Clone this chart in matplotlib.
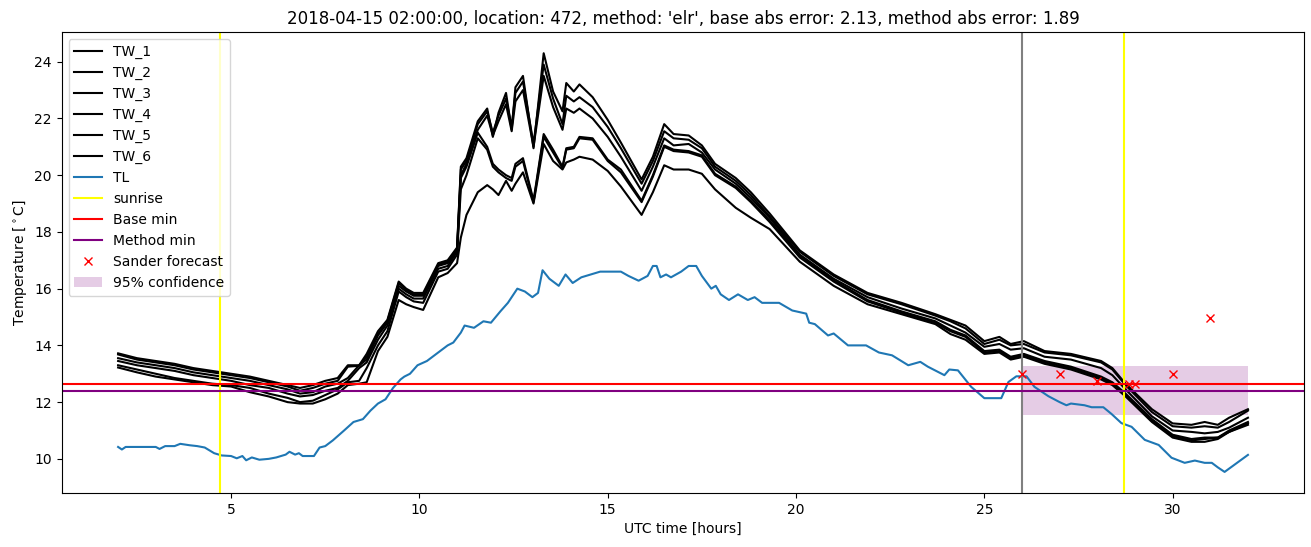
import matplotlib
matplotlib.use("Agg")
import matplotlib.pyplot as plt
import numpy as np

# hours after 2018-04-15 00:00 UTC
tw_hours = [2.0, 2.5, 3.0, 3.5, 4.0, 4.5, 5.0, 5.5, 6.0, 6.5, 6.83, 7.17, 7.5, 7.83,
            8.1, 8.4, 8.6, 8.9, 9.15, 9.45, 9.65, 9.85, 10.1, 10.5, 10.75, 11.0, 11.1,
            11.25, 11.55, 11.8, 11.95, 12.1, 12.3, 12.45, 12.55, 12.75, 13.03, 13.3,
            13.55, 13.8, 13.9, 14.1, 14.25, 14.6, 15.0, 15.35, 15.9, 16.2, 16.5, 16.75,
            17.15, 17.5, 17.85, 18.4, 18.8, 19.3, 20.1, 21.0, 21.9, 22.8, 23.7, 24.1,
            24.5, 25.0, 25.4, 25.7, 26.05, 26.6, 27.3, 28.1, 28.4, 28.75, 29.45, 30.0,
            30.5, 30.85, 31.2, 31.5, 32.0]

tw_1 = [13.72, 13.55, 13.45, 13.35, 13.2, 13.1, 13.0, 12.9, 12.75, 12.6, 12.5, 12.6, 12.75, 12.85,
        13.3, 13.3, 13.7, 14.5, 14.9, 16.25, 16.0, 15.85, 15.85, 16.9, 17.0, 17.45, 20.3,
        20.6, 21.9, 22.35, 21.35, 22.2, 22.9, 21.6, 23.1, 23.5, 20.95, 24.3,
        22.95, 22.25, 23.25, 22.95, 23.2, 22.75, 21.95, 21.15, 19.85, 20.65, 21.8, 21.45,
        21.4, 21.05, 20.4, 19.9, 19.4, 18.65, 17.35, 16.5, 15.85, 15.5, 15.1, 14.9,
        14.7, 14.15, 14.3, 14.05, 14.15, 13.8, 13.7, 13.45, 13.2, 12.65, 11.75, 11.25,
        11.2, 11.3, 11.2, 11.45, 11.75]
tw_2 = [13.68, 13.5, 13.4, 13.3, 13.15, 13.05, 12.95, 12.85, 12.7, 12.55, 12.4, 12.5, 12.65, 12.75,
        13.25, 13.28, 13.6, 14.4, 14.85, 16.2, 15.95, 15.8, 15.8, 16.85, 16.95, 17.4, 20.2,
        20.5, 21.8, 22.25, 21.5, 22.1, 22.7, 21.7, 22.9, 23.3, 21.1, 23.9,
        22.7, 21.8, 22.8, 22.6, 22.75, 22.4, 21.7, 20.95, 19.7, 20.5, 21.55, 21.3,
        21.25, 20.95, 20.3, 19.8, 19.3, 18.55, 17.3, 16.45, 15.8, 15.45, 15.05, 14.85,
        14.6, 14.05, 14.2, 14.0, 14.05, 13.75, 13.65, 13.4, 13.15, 12.6, 11.65, 11.15,
        11.1, 11.15, 11.1, 11.3, 11.7]
tw_3 = [13.55, 13.4, 13.3, 13.2, 13.05, 12.95, 12.85, 12.75, 12.6, 12.45, 12.3, 12.35, 12.55, 12.65,
        12.85, 13.3, 13.5, 14.35, 14.8, 16.1, 15.9, 15.75, 15.75, 16.8, 16.9, 17.35, 20.0,
        20.4, 21.6, 22.1, 21.4, 21.9, 22.5, 21.55, 22.6, 23.0, 21.0, 23.5,
        22.4, 21.6, 22.35, 22.2, 22.35, 22.0, 21.35, 20.65, 19.45, 20.3, 21.3, 21.05,
        21.1, 20.8, 20.2, 19.7, 19.2, 18.5, 17.2, 16.35, 15.7, 15.3, 14.95, 14.7,
        14.45, 13.95, 14.05, 13.85, 13.9, 13.6, 13.5, 13.2, 12.95, 12.45, 11.5, 11.0,
        10.95, 10.9, 10.95, 11.1, 11.45]
tw_4 = [13.45, 13.3, 13.2, 13.1, 12.95, 12.85, 12.75, 12.6, 12.5, 12.3, 12.2, 12.25, 12.4, 12.5,
        12.75, 13.2, 13.4, 14.2, 14.7, 16.0, 15.8, 15.65, 15.65, 16.7, 16.8, 17.3, 19.9,
        20.3, 21.5, 21.0, 20.4, 20.2, 20.0, 19.9, 20.4, 20.6, 19.1, 21.45,
        20.9, 20.3, 20.95, 21.0, 21.35, 21.3, 20.55, 20.2, 19.1, 20.0, 21.05, 20.9,
        20.85, 20.7, 20.05, 19.6, 19.1, 18.4, 17.15, 16.3, 15.6, 15.2, 14.85, 14.55,
        14.35, 13.8, 13.85, 13.6, 13.7, 13.45, 13.25, 12.9, 12.7, 12.3, 11.4, 10.85,
        10.7, 10.75, 10.75, 11.0, 11.3]
tw_5 = [13.3, 13.15, 13.0, 12.85, 12.75, 12.65, 12.6, 12.5, 12.3, 12.15, 12.0, 12.05, 12.25, 12.45,
        12.7, 12.75, 13.2, 14.0, 14.5, 15.9, 15.7, 15.55, 15.5, 16.6, 16.7, 17.2, 19.5,
        20.0, 21.3, 20.9, 20.3, 20.1, 19.9, 19.8, 20.3, 20.5, 19.05, 21.35,
        20.8, 20.25, 20.9, 20.95, 21.3, 21.25, 20.5, 20.1, 19.05, 19.95, 21.0, 20.85,
        20.8, 20.65, 20.0, 19.55, 19.05, 18.35, 17.1, 16.25, 15.55, 15.15, 14.8, 14.5,
        14.3, 13.75, 13.8, 13.55, 13.65, 13.4, 13.2, 12.85, 12.65, 12.25, 11.35, 10.8,
        10.65, 10.7, 10.75, 10.95, 11.25]
tw_6 = [13.22, 13.05, 12.9, 12.8, 12.7, 12.6, 12.55, 12.35, 12.2, 12.0, 11.95, 11.95, 12.1, 12.3,
        12.6, 12.65, 12.7, 13.8, 14.3, 15.6, 15.45, 15.35, 15.25, 16.4, 16.55, 16.9, 17.8,
        18.6, 19.4, 19.65, 19.5, 19.3, 19.8, 19.45, 19.7, 20.1, 19.0, 21.1,
        20.5, 20.2, 20.45, 20.55, 20.65, 20.55, 20.15, 19.6, 18.6, 19.4, 20.35, 20.2,
        20.2, 20.05, 19.5, 18.85, 18.5, 18.1, 16.95, 16.1, 15.45, 15.1, 14.75, 14.4,
        14.2, 13.7, 13.75, 13.5, 13.6, 13.35, 13.15, 12.8, 12.6, 12.2, 11.3, 10.75,
        10.6, 10.6, 10.7, 10.95, 11.2]

tl_hours = [2.0, 2.1, 2.2, 2.6, 3.0, 3.1, 3.25, 3.5, 3.65, 3.9, 4.1, 4.3, 4.55, 4.75, 5.0,
            5.15, 5.3, 5.4, 5.55, 5.75, 6.0, 6.2, 6.45, 6.55, 6.7, 6.8, 6.9, 7.2, 7.35,
            7.5, 7.7, 8.0, 8.25, 8.5, 8.7, 8.9, 9.1, 9.3, 9.5, 9.6, 9.75, 9.95, 10.2,
            10.5, 10.75, 10.9, 11.1, 11.2, 11.45, 11.7, 11.9, 12.15, 12.35, 12.6, 12.8,
            13.0, 13.15, 13.27, 13.45, 13.7, 13.88, 14.07, 14.3, 14.55, 14.8, 15.35,
            15.55, 15.82, 16.06, 16.2, 16.3, 16.4, 16.55, 16.68, 16.95, 17.15, 17.35,
            17.5, 17.75, 17.87, 18.0, 18.22, 18.46, 18.72, 18.9, 19.1, 19.55, 19.9,
            20.27, 20.35, 20.5, 20.85, 21.0, 21.38, 21.86, 22.2, 22.55, 22.98, 23.3,
            23.5, 23.94, 24.07, 24.3, 24.65, 25.0, 25.45, 25.64, 25.85, 26.12, 26.33,
            26.7, 27.0, 27.18, 27.3, 27.66, 27.85, 28.16, 28.38, 28.64, 28.91, 29.26,
            29.63, 29.97, 30.32, 30.59, 30.85, 31.04, 31.2, 31.38, 32.0]
tl = [10.42, 10.33, 10.42, 10.42, 10.42, 10.35, 10.45, 10.45, 10.53, 10.48, 10.45, 10.4, 10.2,
      10.12, 10.1, 10.02, 10.1, 9.95, 10.05, 9.97, 10.0, 10.05, 10.15, 10.25, 10.15, 10.2,
      10.1, 10.1, 10.4, 10.45, 10.65, 11.0, 11.3, 11.4, 11.7, 11.95, 12.1, 12.5, 12.8,
      12.9, 13.0, 13.3, 13.45, 13.75, 14.0, 14.1, 14.45, 14.7, 14.62, 14.85, 14.8, 15.2,
      15.5, 16.0, 15.9, 15.7, 15.85, 16.65, 16.35, 16.1, 16.5, 16.2, 16.4, 16.5, 16.6,
      16.6, 16.45, 16.28, 16.45, 16.8, 16.8, 16.4, 16.5, 16.4, 16.6, 16.8, 16.8, 16.45,
      16.0, 16.1, 15.8, 15.6, 15.8, 15.6, 15.7, 15.5, 15.5, 15.23, 15.12, 14.8, 14.75,
      14.35, 14.42, 14.0, 14.0, 13.75, 13.65, 13.3, 13.42, 13.25, 12.95, 13.15, 13.12,
      12.54, 12.14, 12.14, 12.71, 12.91, 12.91, 12.54, 12.21, 12.0, 11.89, 11.95, 11.89,
      11.82, 11.82, 11.58, 11.26, 11.13, 10.67, 10.49, 10.04, 9.86, 9.94, 9.86, 9.86,
      9.7, 9.54, 10.14]

sunrise = [4.7, 28.7]
forecast_start = 26.0
base_min = 12.63
method_min = 12.4

sander_hours = [26, 27, 28, 28.83, 29, 30, 31]
sander_temp = [13.0, 13.0, 12.75, 12.65, 12.65, 13.0, 14.95]

conf_hours = [26, 32]
conf_low = 11.55
conf_high = 13.26

fig, ax = plt.subplots(figsize=(13.11, 5.47), dpi=100)

for i, tw in enumerate([tw_1, tw_2, tw_3, tw_4, tw_5, tw_6]):
    ax.plot(tw_hours, tw, color='black', label='TW_%d' % (i + 1))
ax.plot(tl_hours, tl, label='TL')
ax.axvline(sunrise[0], color='yellow', label='sunrise')
ax.axvline(sunrise[1], color='yellow')
ax.axvline(forecast_start, color='grey')
ax.axhline(base_min, color='red', label='Base min')
ax.axhline(method_min, color='purple', label='Method min')
ax.plot(sander_hours, sander_temp, 'x', color='red', label='Sander forecast')
ax.fill_between(conf_hours, conf_low, conf_high, color='purple', alpha=0.2,
                linewidth=0, label='95% confidence')

ax.set_xlabel('UTC time [hours]')
ax.set_ylabel(r'Temperature [$^\circ$C]')
ax.set_title("2018-04-15 02:00:00, location: 472, method: 'elr', "
             "base abs error: 2.13, method abs error: 1.89")
ax.legend(loc='upper left')

plt.subplots_adjust(left=0.047, right=0.995, top=0.941, bottom=0.099)
plt.savefig('out.png')
